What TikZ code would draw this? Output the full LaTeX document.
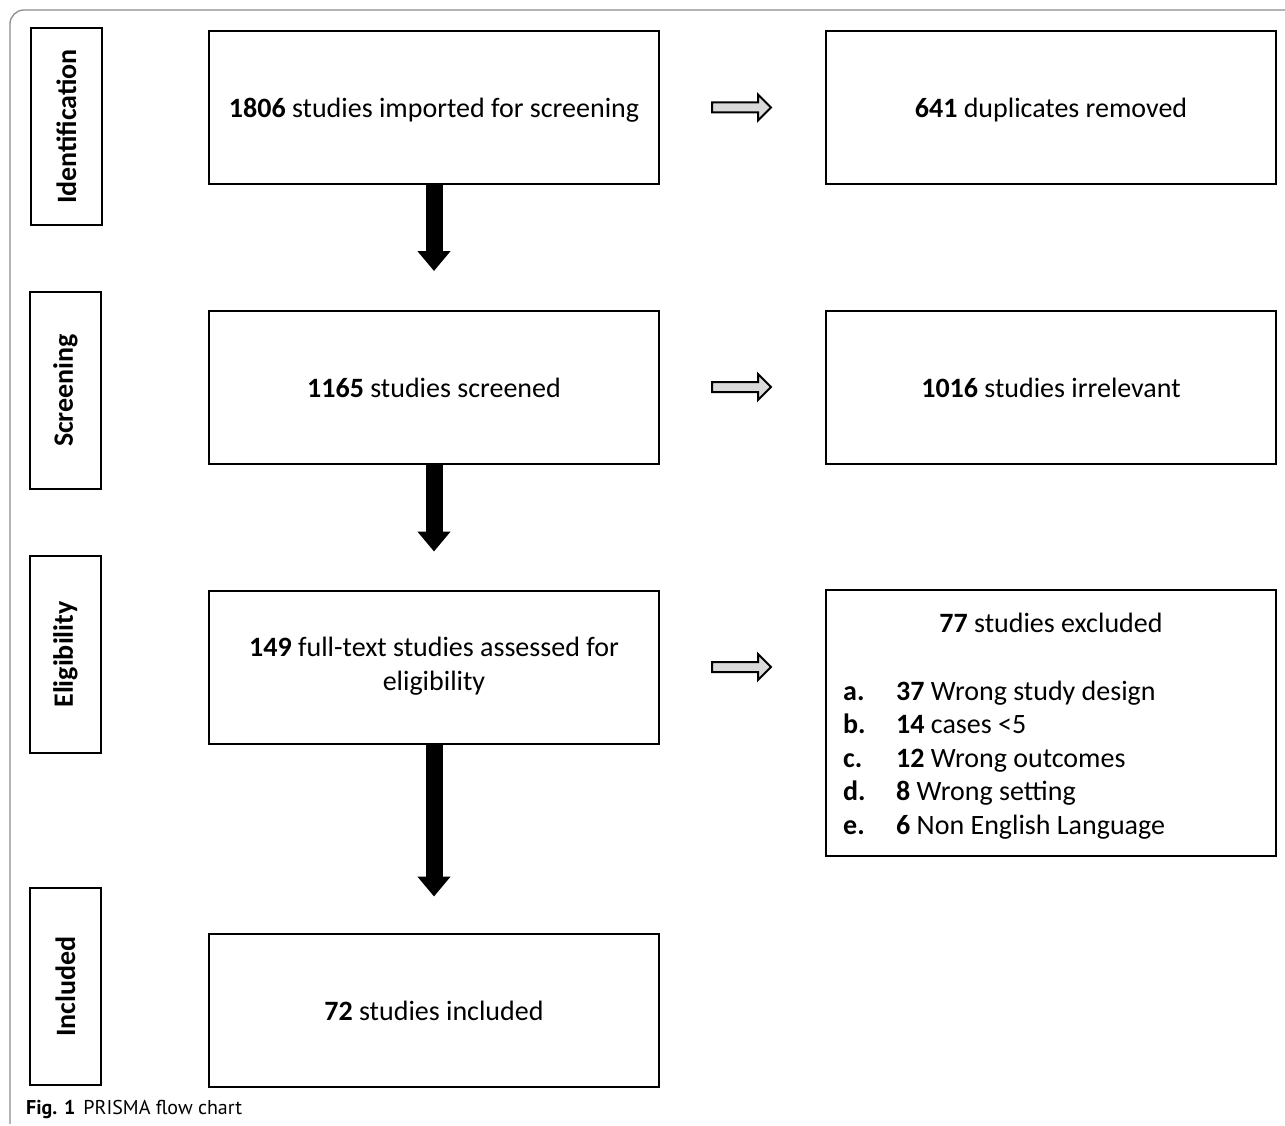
\documentclass[tikz,border=0pt]{standalone}
\usepackage{fontspec}
\setmainfont{Carlito}
\newfontfamily\capfont{PT Sans}
\usetikzlibrary{arrows.meta,shapes.arrows,calc}
\definecolor{framegray}{HTML}{8C8C8C}
\definecolor{arrowfill}{HTML}{D9D9D9}
\begin{document}
\begin{tikzpicture}[x=1pt,y=-1pt,
  every node/.style={font=\fontsize{28}{34}\selectfont},
  mainbox/.style={draw=black,line width=2pt,minimum width=450pt,minimum height=153pt,inner sep=0pt,text height=26pt,text depth=6pt},
  plainbox/.style={draw=black,line width=2pt,minimum width=450pt,inner sep=0pt},
  sidebox/.style={draw=black,line width=2pt,rotate=90,minimum width=197pt,minimum height=71pt,inner sep=0pt,font=\fontsize{28}{34}\selectfont\bfseries},
  grayarrow/.style={single arrow,draw=black,fill=arrowfill,line width=2pt,minimum height=59pt,inner sep=4pt,single arrow head extend=8pt,single arrow head indent=0pt,anchor=tail},
  downarrow/.style={line width=17pt,-{Triangle[length=20pt,width=32pt]}},
  listlbl/.style={anchor=base west,inner sep=0pt,font=\fontsize{28}{34}\selectfont\bfseries},
  listtxt/.style={anchor=base west,inner sep=0pt}
]
\useasboundingbox (0,0) rectangle (1285,1126);
\draw[framegray,line width=1.3pt,rounded corners=14pt] (10,1124) -- (10,10) -- (1300,10);
% side labels
\node[sidebox] (sid) at (66.5,126.5) {Identification};
\node[sidebox] (sscr) at (65.5,390.5) {Screening};
\node[sidebox] (selig) at (65.5,654.5) {Eligibility};
\node[sidebox] (sinc) at (65.5,986.5) {Included};
% main boxes
\node[mainbox] (b1) at (434,107.5) {\textbf{1806} studies imported for screening};
\node[mainbox] (b2) at (434,387) {\textbf{1165} studies screened};
\node[plainbox,minimum height=153pt] (b3) at (434,667) {};
\node[anchor=base,align=center,inner sep=0pt] (b3t) at (434,690) {\textbf{149} full-text studies assessed for\\eligibility};
\node[mainbox] (b4) at (434,1010) {\textbf{72} studies included};
% right boxes
\node[mainbox] (r1) at (1051,107.5) {\textbf{641} duplicates removed};
\node[mainbox] (r2) at (1051,387) {\textbf{1016} studies irrelevant};
\node[plainbox,minimum height=266pt] (r3) at (1051,723) {};
\node[anchor=base,inner sep=0pt] (r3t) at (1051,632) {\textbf{77} studies excluded};
\node[listlbl] (la) at (843,700) {a.};
\node[listtxt] (ta) at (896,700) {\textbf{37} Wrong study design};
\node[listlbl] (lb) at (843,733.5) {b.};
\node[listtxt] (tb) at (896,733.5) {\textbf{14} cases <5};
\node[listlbl] (lc) at (843,767) {c.};
\node[listtxt] (tc) at (896,767) {\textbf{12} Wrong outcomes};
\node[listlbl] (ld) at (843,800.5) {d.};
\node[listtxt] (td) at (896,800.5) {\textbf{8} Wrong setting};
\node[listlbl] (le) at (843,834) {e.};
\node[listtxt] (te) at (896,834) {\textbf{6} Non English Language};
% gray arrows
\node[grayarrow] (g1) at ($(b1.east)+(51,0)$) {};
\node[grayarrow] (g2) at ($(b2.east)+(51,0)$) {};
\node[grayarrow] (g3) at ($(b3.east)+(51,0)$) {};
% black arrows
\coordinate (t1) at ($(b1.south)+(0,86)$);
\coordinate (t2) at ($(b2.south)+(0,87)$);
\coordinate (t3) at ($(b3.south)+(0,152)$);
\draw[downarrow] (b1.south) -- (t1);
\draw[downarrow] (b2.south) -- (t2);
\draw[downarrow] (b3.south) -- (t3);
% caption
\node[anchor=base west,inner sep=0pt,font=\capfont\fontsize{20}{24}\selectfont] (cap) at (26,1114) {\textbf{Fig. 1}\hspace{8pt}PRISMA flow chart};
\end{tikzpicture}
\end{document}
